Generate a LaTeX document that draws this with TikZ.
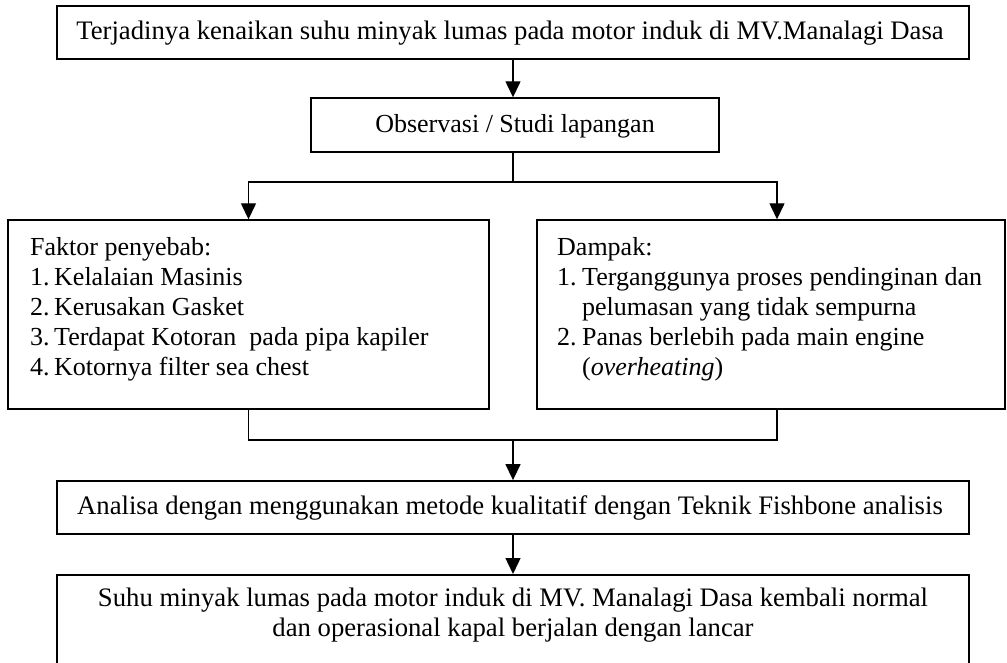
\documentclass[tikz,border=0pt]{standalone}
\usepackage{fontspec}
\setmainfont{Liberation Serif}
\usetikzlibrary{arrows.meta}
\tikzset{
  box/.style={draw=black, line width=1.4pt, inner sep=0pt, fill=white},
  thick box/.style={box, line width=1.8pt},
  conn/.style={line width=1.4pt},
  arr/.style={conn, -{Triangle[length=16pt,width=15pt]}},
  txt/.style={inner sep=0pt, font=\fontsize{26}{30}\selectfont},
  bigtxt/.style={inner sep=0pt, font=\fontsize{26.7}{30}\selectfont},
}
\begin{document}
\begin{tikzpicture}[x=1pt,y=-1pt]
\useasboundingbox (0,0) rectangle (1007,663);
\clip (0,0) rectangle (1007,663);
% boxes
\node (b1) [thick box, minimum width=912pt, minimum height=53pt] at (513,32.5) {};
\node [bigtxt] at (510,33) {Terjadinya kenaikan suhu minyak lumas pada motor induk di MV.Manalagi Dasa};
\node (b2) [box, minimum width=408pt, minimum height=54pt] at (515,125) {};
\node [txt] at (515,126) {Observasi / Studi lapangan};
\node (lb) [box, minimum width=481pt, minimum height=189pt] at (248.5,314.5) {};
\node [txt, anchor=base west] at (30,255) {\begin{tabular}[t]{@{}l@{\hspace{4.5pt}}l@{}}
\multicolumn{2}{@{}l@{}}{Faktor penyebab:}\\
1.& Kelalaian Masinis\\
2.& Kerusakan Gasket\\
3.& Terdapat Kotoran\ \ pada pipa kapiler\\
4.& Kotornya filter sea chest
\end{tabular}};
\node (rb) [box, minimum width=468pt, minimum height=189pt] at (771,314.5) {};
\node [txt, anchor=base west] at (557,255) {\begin{tabular}[t]{@{}l@{\hspace{5.5pt}}l@{}}
\multicolumn{2}{@{}l@{}}{Dampak:}\\
1.& Terganggunya proses pendinginan dan\\
  & pelumasan yang tidak sempurna\\
2.& Panas berlebih pada main engine\\
  & (\textit{overheating})
\end{tabular}};
\node (b4) [thick box, minimum width=912pt, minimum height=53pt] at (513,507.5) {};
\node [bigtxt] at (510,508) {Analisa dengan menggunakan metode kualitatif dengan Teknik Fishbone analisis};
\node (b5) [thick box, minimum width=912pt, minimum height=130pt, anchor=north] at (513,574) {};
\node [bigtxt, align=center] at (513,615) {Suhu minyak lumas pada motor induk di MV. Manalagi Dasa kembali normal\\dan operasional kapal berjalan dengan lancar};
% connectors
\coordinate (split) at (513,182);
\coordinate (merge) at (513,440);
\draw[arr] (b1.south -| split) -- (b2.north -| split);
\draw[conn] (b2.south -| split) -- (split);
\draw[arr] (split) -| (lb.north);
\draw[arr] (split) -| ([xshift=6pt]rb.north);
\draw[conn] (lb.south) |- (merge) -| ([xshift=6pt]rb.south);
\draw[arr] (merge) -- (b4.north -| merge);
\draw[arr] (b4.south -| merge) -- (b5.north -| merge);
\end{tikzpicture}
\end{document}
